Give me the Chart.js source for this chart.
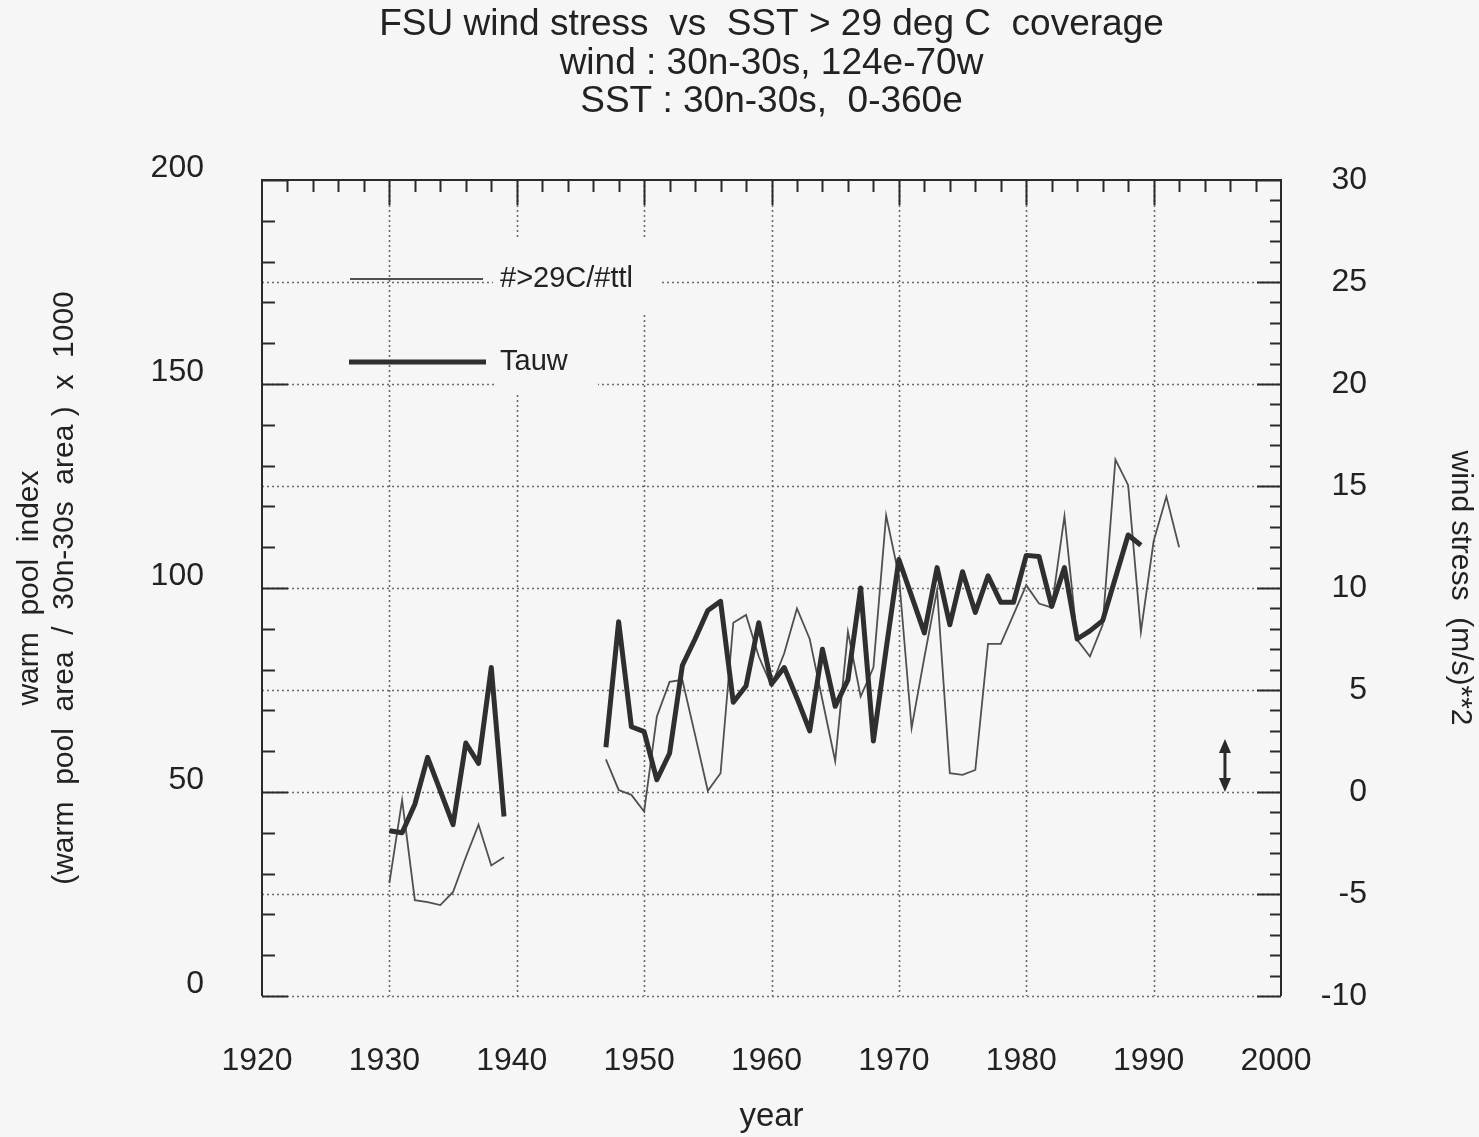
<!DOCTYPE html>
<html>
<head>
<meta charset="utf-8">
<script src="https://cdn.jsdelivr.net/npm/chart.js@4.4.0/dist/chart.umd.min.js"></script>
<style>
html, body { margin: 0; padding: 0; background: #f6f6f6; }
canvas { display: block; }
</style>
</head>
<body>
<canvas id="mycanvas" width="1479" height="1137"></canvas>
<script>
// years covered by the two series (null = no data)
var years = [1930,1931,1932,1933,1934,1935,1936,1937,1938,1939,
             1940,1941,1942,1943,1944,1945,1946,1947,1948,1949,
             1950,1951,1952,1953,1954,1955,1956,1957,1958,1959,
             1960,1961,1962,1963,1964,1965,1966,1967,1968,1969,
             1970,1971,1972,1973,1974,1975,1976,1977,1978,1979,
             1980,1981,1982,1983,1984,1985,1986,1987,1988,1989,
             1990,1991,1992];

// #>29C/#ttl  (warm pool index, left axis)
var warmPool = [27.7,48,23.5,23,22.3,25.5,34,42,32,34,
                null,null,null,null,null,null,null,58,50.5,49.3,
                45.2,68.5,77,77.5,64,50.3,54.6,91.5,93.4,83.2,
                76,84,95,87.5,72.5,57.6,89.3,73.4,80.5,117.8,
                103,65.7,83,99.5,54.6,54.2,55.4,86.3,86.3,93.5,
                100.7,96.2,95.2,117.6,87.3,83.2,91,131.5,125.2,89.3,
                111.5,122.4,110];

// Tauw (wind stress, right axis)
var tauw = [-1.9,-2.0,-0.6,1.7,0.05,-1.6,2.4,1.4,6.1,-1.2,
            null,null,null,null,null,null,null,2.2,8.35,3.2,
            2.96,0.6,1.9,6.2,7.5,8.9,9.35,4.4,5.2,8.3,
            5.3,6.1,4.6,3.0,7.0,4.2,5.5,10.0,2.5,7.0,
            11.4,9.6,7.8,11.0,8.2,10.8,8.8,10.6,9.3,9.3,
            11.6,11.55,9.1,11.0,7.5,7.9,8.4,10.5,12.6,12.1,
            null,null,null];

var yearTicks = [1920,1930,1940,1950,1960,1970,1980,1990,2000];
var poolTicks = [0,50,100,150,200];
var tauTicks = [-10,-5,0,5,10,15,20,25,30];

// double arrow drawn near the right edge (wind stress scale)
var arrowYear = 1995.6;
var arrowFrom = 0;
var arrowTo = 2.6;

var titleLines = ['FSU wind stress  vs  SST > 29 deg C  coverage',
                  'wind : 30n-30s, 124e-70w',
                  'SST : 30n-30s,  0-360e'];

var BG = '#f6f6f6';
var INK = '#222222';
var FONT = "'Liberation Sans', Arial, Helvetica, sans-serif";

Chart.defaults.font.family = FONT;
Chart.defaults.color = INK;

var poolPoints = years.map(function (yr, i) { return {x: yr, y: warmPool[i]}; });
var tauPoints = years.map(function (yr, i) { return {x: yr, y: tauw[i]}; });

var framePlugin = {
	id: 'frame',
	beforeDatasetsDraw: function (chart) {
		var ctx = chart.ctx, a = chart.chartArea;
		var sx = chart.scales.x, sy2 = chart.scales.y2;
		ctx.save();
		ctx.strokeStyle = '#6a6a6a';
		ctx.lineWidth = 1.6;
		ctx.setLineDash([2, 3]);
		yearTicks.forEach(function (yr) {
			if (yr === sx.min || yr === sx.max) return;
			var x = Math.round(sx.getPixelForValue(yr)) + 0.5;
			ctx.beginPath(); ctx.moveTo(x, a.top); ctx.lineTo(x, a.bottom); ctx.stroke();
		});
		tauTicks.forEach(function (w) {
			if (w === sy2.max) return;
			var y = Math.round(sy2.getPixelForValue(w)) + 0.5;
			ctx.beginPath(); ctx.moveTo(a.left, y); ctx.lineTo(a.right, y); ctx.stroke();
		});
		ctx.setLineDash([]);
		// legend background boxes hide the grid behind the labels
		ctx.fillStyle = BG;
		ctx.fillRect(a.left + 231, a.top + 58, 167, 75);
		ctx.fillRect(a.left + 233, a.top + 133, 103, 82);
		ctx.restore();
	},
	afterDatasetsDraw: function (chart) {
		var ctx = chart.ctx, a = chart.chartArea;
		var sx = chart.scales.x, sy = chart.scales.y, sy2 = chart.scales.y2;
		var i, p;
		ctx.save();
		ctx.strokeStyle = '#2a2a2a';
		ctx.lineWidth = 2;
		ctx.beginPath();
		ctx.moveTo(a.left, a.bottom); ctx.lineTo(a.left, a.top);
		ctx.lineTo(a.right, a.top); ctx.lineTo(a.right, a.bottom);
		ctx.stroke();

		// inward ticks
		ctx.lineWidth = 2;
		ctx.beginPath();
		for (i = sx.min + 2; i < sx.max; i += 2) {
			p = Math.round(sx.getPixelForValue(i)) + 0.5;
			ctx.moveTo(p, a.top);
			ctx.lineTo(p, a.top + (i % 10 === 0 ? 25 : 12));
		}
		for (i = sy.min; i <= sy.max; i += 10) {
			p = Math.round(sy.getPixelForValue(i)) + 0.5;
			ctx.moveTo(a.left, p);
			ctx.lineTo(a.left + (i % 50 === 0 ? 26 : 13), p);
		}
		for (i = sy2.min; i <= sy2.max; i += 1) {
			p = Math.round(sy2.getPixelForValue(i)) + 0.5;
			ctx.moveTo(a.right, p);
			ctx.lineTo(a.right - (i % 5 === 0 ? 24 : 11), p);
		}
		ctx.stroke();

		// legend
		var ly1 = a.top + 99, ly2 = a.top + 182;
		ctx.strokeStyle = '#505050';
		ctx.lineWidth = 2;
		ctx.beginPath(); ctx.moveTo(a.left + 88, ly1); ctx.lineTo(a.left + 221, ly1); ctx.stroke();
		ctx.strokeStyle = '#2f2f2f';
		ctx.lineWidth = 5;
		ctx.beginPath(); ctx.moveTo(a.left + 87, ly2); ctx.lineTo(a.left + 224, ly2); ctx.stroke();
		ctx.fillStyle = INK;
		ctx.font = '29px ' + FONT;
		ctx.textBaseline = 'middle';
		ctx.textAlign = 'left';
		ctx.fillText('#>29C/#ttl', a.left + 238, ly1);
		ctx.fillText('Tauw', a.left + 238, ly2);

		// double arrow
		var ax = sx.getPixelForValue(arrowYear);
		var ay0 = sy2.getPixelForValue(arrowFrom);
		var ay1 = sy2.getPixelForValue(arrowTo);
		ctx.strokeStyle = '#2a2a2a';
		ctx.fillStyle = '#2a2a2a';
		ctx.lineWidth = 3;
		ctx.beginPath(); ctx.moveTo(ax, ay0 - 8); ctx.lineTo(ax, ay1 + 8); ctx.stroke();
		ctx.beginPath(); ctx.moveTo(ax, ay1); ctx.lineTo(ax - 6, ay1 + 14); ctx.lineTo(ax + 6, ay1 + 14); ctx.closePath(); ctx.fill();
		ctx.beginPath(); ctx.moveTo(ax, ay0); ctx.lineTo(ax - 6, ay0 - 14); ctx.lineTo(ax + 6, ay0 - 14); ctx.closePath(); ctx.fill();
		ctx.restore();
	}
};

var ctx = document.getElementById('mycanvas');

var chart = new Chart(ctx, {
	type: 'line',
	data: {
		datasets: [
			{
				label: 'Tauw',
				data: tauPoints,
				yAxisID: 'y2',
				borderColor: '#2f2f2f',
				borderWidth: 5,
				borderJoinStyle: 'round',
				pointRadius: 0,
				tension: 0,
				spanGaps: false
			},
			{
				label: '#>29C/#ttl',
				data: poolPoints,
				yAxisID: 'y',
				borderColor: '#505050',
				borderWidth: 1.8,
				pointRadius: 0,
				tension: 0,
				spanGaps: false
			}
		]
	},
	options: {
		responsive: false,
		animation: false,
		layout: { padding: { top: 6, left: 0, right: 0, bottom: 0 } },
		plugins: {
			legend: { display: false },
			tooltip: { enabled: false },
			title: {
				display: true,
				fullSize: false,
				text: titleLines,
				color: INK,
				font: { size: 37, weight: 'normal', lineHeight: 1.04 },
				padding: { top: 0, bottom: 58.6 }
			}
		},
		scales: {
			x: {
				type: 'linear',
				position: 'bottom',
				min: 1920,
				max: 2000,
				grid: { display: false },
				border: { display: false },
				afterBuildTicks: function (s) { s.ticks = yearTicks.map(function (v) { return {value: v}; }); },
				ticks: {
					callback: function (v) { return String(v); },
					font: { size: 32 },
					color: INK,
					padding: 38,
					labelOffset: -5,
					maxRotation: 0
				},
				title: { display: true, text: 'year', font: { size: 33 }, color: INK, padding: { top: 0, bottom: 0 } },
				afterFit: function (s) { s.height = 141; }
			},
			y: {
				position: 'left',
				min: 0,
				max: 200,
				grid: { display: false },
				border: { display: false },
				afterBuildTicks: function (s) { s.ticks = poolTicks.map(function (v) { return {value: v}; }); },
				ticks: { font: { size: 32 }, color: INK, padding: 50, labelOffset: -12 },
				title: {
					display: true,
					text: ['warm  pool  index', '(warm  pool  area  /  30n-30s  area )  x  1000'],
					font: { size: 30, lineHeight: 1.17 },
					color: INK,
					padding: { top: 12, bottom: 0 }
				},
				afterFit: function (s) { s.width = 262; }
			},
			y2: {
				position: 'right',
				weight: 0,
				min: -10,
				max: 30,
				grid: { display: false },
				border: { display: false },
				afterBuildTicks: function (s) { s.ticks = tauTicks.map(function (v) { return {value: v}; }); },
				ticks: { font: { size: 32 }, color: INK, padding: 40, crossAlign: 'far' },
				afterFit: function (s) { s.width = 86; }
			},
			y2title: {
				position: 'right',
				weight: 1,
				min: -10,
				max: 30,
				grid: { display: false },
				border: { display: false },
				ticks: { display: false },
				title: {
					display: true,
					text: 'wind stress  (m/s)**2',
					font: { size: 30 },
					color: INK,
					padding: { top: 1, bottom: 0 }
				},
				afterFit: function (s) { s.width = 112; }
			}
		}
	},
	plugins: [framePlugin]
});
</script>
</body>
</html>
